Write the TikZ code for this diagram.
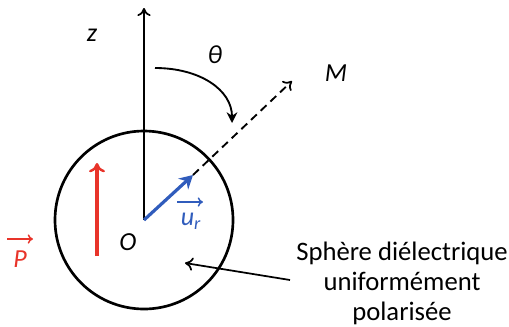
\documentclass[tikz,border=0pt]{standalone}
\usepackage{fontspec}
\setmainfont{Carlito}
\usetikzlibrary{arrows.meta}
\definecolor{pred}{RGB}{232,52,42}
\definecolor{ublue}{RGB}{48,92,188}
\begin{document}
\begin{tikzpicture}[x=0.75pt,y=-0.75pt,
  lbl/.style={font=\fontsize{19.5}{22}\selectfont\itshape, inner sep=0pt},
  axisarrow/.style={line width=1.4pt,-{To[length=6pt,width=10pt,line width=1.3pt]}},
  vecbar/.style={line width=1.3pt,-{To[length=4pt,width=7pt,line width=1.1pt]}}]
\useasboundingbox (0,0) rectangle (509,326);
\coordinate (O) at (144,220);
\coordinate (ztop) at (144,8);
\coordinate (uend) at (193,175);
\coordinate (Mtip) at (292,81);
\coordinate (arcs) at (155,68);
\coordinate (arce) at (232,123);
\coordinate (pbot) at (97,256);
\coordinate (ptop) at (97,163);
\coordinate (ptr) at (185,263);
\coordinate (pfrom) at (290,280);
% sphere
\node[draw, circle, line width=2pt, minimum size=133.5pt, inner sep=0pt] (sph) at (O) {};
% z axis
\draw[axisarrow] (O) -- (ztop);
% dashed to M
\draw[line width=1.4pt, dash pattern=on 6pt off 4pt, -{To[length=6pt,width=10pt,line width=1.3pt]}] (uend) -- (Mtip);
% theta arc
\draw[line width=1.4pt, -{Stealth[length=8pt,width=8pt]}] (arcs) .. controls (200,68) and (232,90) .. (arce);
% u_r arrow
\draw[ublue, line width=2.4pt, -{Stealth[length=10pt,width=11pt]}] (O) -- (uend);
% P arrow
\draw[pred, line width=2.4pt, -{To[length=7pt,width=12pt,line width=1.8pt]}] (pbot) -- (ptop);
% pointer arrow
\draw[line width=1.3pt, -{To[length=6pt,width=10pt,line width=1.3pt]}] (pfrom) -- (ptr);
% labels
\node[lbl] (zl) at (92,35) {z};
\node[lbl] (th) at (215,55) {θ};
\node[lbl] (Ml) at (336,73) {M};
\node[lbl] (Ol) at (128,242) {O};
\node[lbl, text=ublue] (ur) at (191,221) {u\textsubscript{r}};
\draw[ublue, vecbar] (177,202) -- (203,202);
\node[lbl, text=pred] (Pl) at (20,259) {P};
\draw[pred, vecbar] (7,239) -- (33,239);
\node[font=\fontsize{20}{22.5}\selectfont, align=center, inner sep=0pt] (txt) at (402,283) {Sphère diélectrique\\uniformément\\polarisée};
\end{tikzpicture}
\end{document}
